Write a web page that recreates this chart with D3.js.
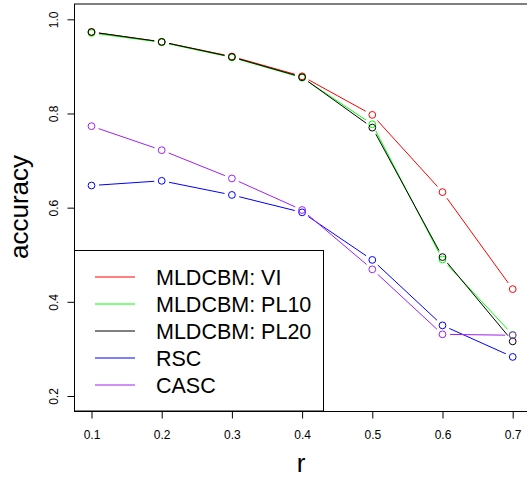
<!DOCTYPE html>
<html><head><meta charset="utf-8">
<script src="https://cdn.jsdelivr.net/npm/d3@7"></script>
<style>body{margin:0;background:#fff}svg{display:block}text{font-family:"Liberation Sans",Arial,sans-serif}</style>
</head><body>
<script>
const rValues = [0.1,0.2,0.3,0.4,0.5,0.6,0.7];
const seriesNames = ["MLDCBM: VI","MLDCBM: PL10","MLDCBM: PL20","RSC","CASC"];
const seriesColors = ["#FF0000","#00FF00","#000000","#0000FF","#A020F0"];
const vi   = [0.973,0.952,0.921,0.879,0.797,0.633,0.427];
const pl10 = [0.971,0.951,0.919,0.876,0.777,0.490,0.330];
const pl20 = [0.973,0.952,0.920,0.877,0.770,0.495,0.316];
const rsc  = [0.647,0.657,0.627,0.590,0.489,0.350,0.283];
const casc = [0.773,0.722,0.662,0.595,0.469,0.331,0.329];
const yTicks = [0.2,0.4,0.6,0.8,1.0];
const xTicks = [0.1,0.2,0.3,0.4,0.5,0.6,0.7];
const allSeries = [vi,pl10,pl20,rsc,casc];

const W=527,H=481;
const svg=d3.select("body").append("svg").attr("width",W).attr("height",H);
const box={l:74,t:4,r:530,b:411};
const x=d3.scaleLinear().domain([0.1,0.7]).range([91.5,512.7]);
const y=d3.scaleLinear().domain([0.2,1.0]).range([396,19.3]);

// series
const gap=7.5;
allSeries.forEach((vals,si)=>{
  const g=svg.append("g");
  const pts=vals.map((v,i)=>[x(rValues[i]),y(v)]);
  for(let i=0;i<pts.length-1;i++){
    const [x0,y0]=pts[i],[x1,y1]=pts[i+1];
    const dx=x1-x0,dy=y1-y0,L=Math.hypot(dx,dy);
    if(L>2*gap){
      const ux=dx/L,uy=dy/L;
      g.append("line").attr("x1",x0+ux*gap).attr("y1",y0+uy*gap)
        .attr("x2",x1-ux*gap).attr("y2",y1-uy*gap)
        .attr("stroke",seriesColors[si]).attr("stroke-width",1);
    }
  }
  g.selectAll("circle").data(pts).join("circle")
    .attr("cx",d=>d[0]).attr("cy",d=>d[1]).attr("r",3.4)
    .attr("fill","none").attr("stroke",seriesColors[si]).attr("stroke-width",1);
});

// box
svg.append("rect").attr("x",box.l+0.5).attr("y",box.t).attr("width",box.r-box.l).attr("height",box.b-box.t+0.5)
  .attr("fill","none").attr("stroke","#000").attr("stroke-width",1);

// axes
const yAxis=d3.axisLeft(y).tickValues(yTicks).tickFormat(d3.format(".1f")).tickSize(7).tickSizeOuter(0);
const gy=svg.append("g").attr("transform",`translate(${box.l+0.5},0)`).call(yAxis);
gy.select(".domain").remove();
gy.selectAll("text").attr("font-size",12).attr("fill","#000")
  .attr("x",0).attr("y",0).attr("dy",null).attr("text-anchor","middle")
  .attr("transform","translate(-17,0) rotate(-90)");

const xAxis=d3.axisBottom(x).tickValues(xTicks).tickFormat(d3.format(".1f")).tickSize(7).tickSizeOuter(0);
const gx=svg.append("g").attr("transform",`translate(0,${box.b+0.5})`).call(xAxis);
gx.select(".domain").remove();
gx.selectAll("text").attr("font-size",12).attr("fill","#000").attr("y",19).attr("dy","0.71em");
gx.selectAll("line").attr("stroke","#000");
gy.selectAll("line").attr("stroke","#000");

// titles
svg.append("text").attr("transform","translate(28,207) rotate(-90)").attr("text-anchor","middle")
  .attr("font-size",26).text("accuracy");
svg.append("text").attr("x",301).attr("y",472).attr("text-anchor","middle").attr("font-size",26).text("r");

// legend
const lg=svg.append("g");
lg.append("rect").attr("x",box.l+0.5).attr("y",250.5).attr("width",323-box.l).attr("height",box.b-250.5)
  .attr("fill","#fff").attr("stroke","#000").attr("stroke-width",1);
seriesNames.forEach((n,i)=>{
  const yy=277+i*27;
  lg.append("line").attr("x1",95).attr("x2",135).attr("y1",yy).attr("y2",yy)
    .attr("stroke",seriesColors[i]).attr("stroke-width",1);
  lg.append("text").attr("x",156).attr("y",yy).attr("dy","0.36em").attr("font-size",21.5).text(n);
});
</script>
</body></html>
